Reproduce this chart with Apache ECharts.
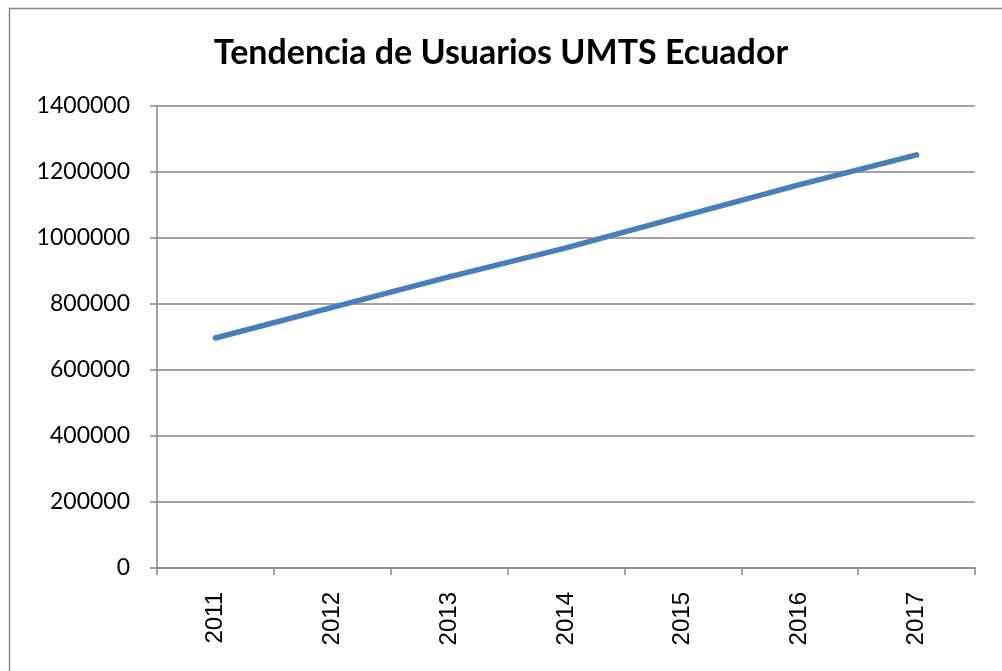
<!DOCTYPE html>
<html>
<head>
<meta charset="utf-8">
<script src="https://cdn.jsdelivr.net/npm/echarts@6/dist/echarts.min.js"></script>
<style>
html,body{margin:0;padding:0;background:#fff;}
#c{width:1002px;height:671px;}
</style>
</head>
<body>
<div id="c"></div>
<script>
const titleText = "Tendencia de Usuarios UMTS Ecuador";
const years = ["2011","2012","2013","2014","2015","2016","2017"];
const usuarios = [697000, 790000, 882000, 970000, 1066000, 1162000, 1252000];
const yMin = 0, yMax = 1400000, yStep = 200000;

const chart = echarts.init(document.getElementById('c'));
chart.setOption({
  animation: false,
  backgroundColor: '#fff',
  graphic: [{
    type: 'rect',
    shape: {x: 9.5, y: 8.5, width: 1010, height: 680},
    style: {fill: 'none', stroke: '#8a8a8a', lineWidth: 1.5},
    silent: true
  }],
  title: {
    text: titleText,
    left: 'center',
    top: 31,
    textStyle: {fontFamily: 'Lato', fontWeight: 'bold', fontSize: 34, color: '#000'}
  },
  grid: {left: 157, right: 27, top: 106, bottom: 103, containLabel: false},
  xAxis: {
    type: 'category',
    data: years,
    boundaryGap: true,
    axisLine: {lineStyle: {color: '#868686', width: 1.5}},
    axisTick: {show: true, length: 7, alignWithLabel: false, lineStyle: {color: '#868686', width: 1.5}},
    axisLabel: {rotate: 90, margin: 24, fontFamily: 'Liberation Sans', fontSize: 24, color: '#000'},
    splitLine: {show: false}
  },
  yAxis: {
    type: 'value',
    min: yMin, max: yMax, interval: yStep,
    axisLine: {show: true, lineStyle: {color: '#868686', width: 1.5}},
    axisTick: {show: true, length: 7, lineStyle: {color: '#868686', width: 1.5}},
    axisLabel: {margin: 27, fontFamily: 'Lato', fontSize: 23, color: '#000', formatter: v => String(v)},
    splitLine: {show: true, lineStyle: {color: '#868686', width: 1.5}}
  },
  series: [{
    type: 'line',
    data: usuarios,
    showSymbol: false,
    symbol: 'none',
    lineStyle: {color: '#4a7ebb', width: 5.5, cap: 'round', join: 'round'}
  }]
});
</script>
</body>
</html>
